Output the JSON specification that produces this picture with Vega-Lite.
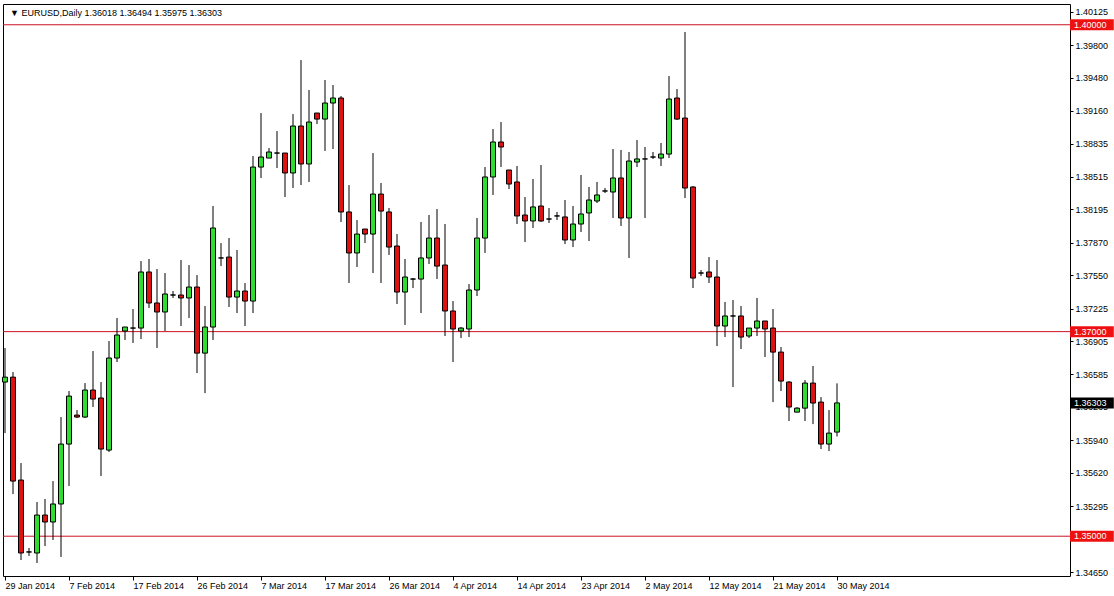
{
"$schema": "https://vega.github.io/schema/vega-lite/v6.json",
"width": 1067,
"height": 572,
"autosize": {"type": "none"},
"padding": {"left": 3, "top": 4, "right": 44, "bottom": 20},
"background": "white",
"config": {"view": {"stroke": "black", "strokeWidth": 1}, "font": "Liberation Sans"},
"title": {"text": "▼ EURUSD,Daily  1.36018 1.36494 1.35975 1.36303", "anchor": "start", "frame": "group", "orient": "top", "offset": -14, "dx": 7, "font": "Liberation Sans", "fontSize": 9, "fontWeight": "normal", "color": "black"},
"datasets": {
"levels": [
{"price": 1.4, "label": "1.40000", "kind": "level"},
{"price": 1.37, "label": "1.37000", "kind": "level"},
{"price": 1.35, "label": "1.35000", "kind": "level"},
{"price": 1.36303, "label": "1.36303", "kind": "bid"}
],
"candles": [
{"i":0,"date":"2014-01-29","o":1.36507,"h":1.36840,"l":1.36008,"c":1.36555},
{"i":1,"date":"2014-01-30","o":1.36555,"h":1.36605,"l":1.35412,"c":1.35539},
{"i":2,"date":"2014-01-31","o":1.35549,"h":1.35715,"l":1.34767,"c":1.34836},
{"i":3,"date":"2014-02-02","o":1.34846,"h":1.34885,"l":1.34807,"c":1.34846},
{"i":4,"date":"2014-02-03","o":1.34836,"h":1.35334,"l":1.34738,"c":1.35207},
{"i":5,"date":"2014-02-04","o":1.35207,"h":1.35364,"l":1.34904,"c":1.35139},
{"i":6,"date":"2014-02-05","o":1.35139,"h":1.35539,"l":1.34963,"c":1.35315},
{"i":7,"date":"2014-02-06","o":1.35315,"h":1.36165,"l":1.34797,"c":1.35901},
{"i":8,"date":"2014-02-07","o":1.35901,"h":1.36419,"l":1.35491,"c":1.36370},
{"i":9,"date":"2014-02-09","o":1.36184,"h":1.36233,"l":1.36155,"c":1.36165},
{"i":10,"date":"2014-02-10","o":1.36165,"h":1.36497,"l":1.36155,"c":1.36429},
{"i":11,"date":"2014-02-11","o":1.36429,"h":1.36810,"l":1.36263,"c":1.36341},
{"i":12,"date":"2014-02-12","o":1.36351,"h":1.36507,"l":1.35588,"c":1.35852},
{"i":13,"date":"2014-02-13","o":1.35842,"h":1.36908,"l":1.35823,"c":1.36742},
{"i":14,"date":"2014-02-14","o":1.36742,"h":1.37133,"l":1.36703,"c":1.36967},
{"i":15,"date":"2014-02-16","o":1.37006,"h":1.37045,"l":1.36918,"c":1.37045},
{"i":16,"date":"2014-02-17","o":1.37035,"h":1.37221,"l":1.36889,"c":1.37035},
{"i":17,"date":"2014-02-18","o":1.37035,"h":1.37690,"l":1.36927,"c":1.37583},
{"i":18,"date":"2014-02-19","o":1.37583,"h":1.37710,"l":1.37231,"c":1.37280},
{"i":19,"date":"2014-02-20","o":1.37280,"h":1.37612,"l":1.36840,"c":1.37192},
{"i":20,"date":"2014-02-21","o":1.37192,"h":1.37573,"l":1.37006,"c":1.37368},
{"i":21,"date":"2014-02-23","o":1.37358,"h":1.37397,"l":1.37329,"c":1.37358},
{"i":22,"date":"2014-02-24","o":1.37358,"h":1.37700,"l":1.37055,"c":1.37329},
{"i":23,"date":"2014-02-25","o":1.37329,"h":1.37651,"l":1.37133,"c":1.37436},
{"i":24,"date":"2014-02-26","o":1.37436,"h":1.37553,"l":1.36595,"c":1.36790},
{"i":25,"date":"2014-02-27","o":1.36790,"h":1.37250,"l":1.36399,"c":1.37045},
{"i":26,"date":"2014-02-28","o":1.37045,"h":1.38228,"l":1.36918,"c":1.38013},
{"i":27,"date":"2014-03-02","o":1.37720,"h":1.37866,"l":1.37641,"c":1.37720},
{"i":28,"date":"2014-03-03","o":1.37729,"h":1.37915,"l":1.37241,"c":1.37338},
{"i":29,"date":"2014-03-04","o":1.37338,"h":1.37798,"l":1.37182,"c":1.37397},
{"i":30,"date":"2014-03-05","o":1.37397,"h":1.37475,"l":1.37055,"c":1.37299},
{"i":31,"date":"2014-03-06","o":1.37299,"h":1.38717,"l":1.37182,"c":1.38609},
{"i":32,"date":"2014-03-07","o":1.38609,"h":1.39137,"l":1.38502,"c":1.38707},
{"i":33,"date":"2014-03-09","o":1.38697,"h":1.38795,"l":1.38697,"c":1.38756},
{"i":34,"date":"2014-03-10","o":1.38746,"h":1.38961,"l":1.38600,"c":1.38746},
{"i":35,"date":"2014-03-11","o":1.38746,"h":1.38746,"l":1.38316,"c":1.38551},
{"i":36,"date":"2014-03-12","o":1.38551,"h":1.39127,"l":1.38404,"c":1.39010},
{"i":37,"date":"2014-03-13","o":1.39010,"h":1.39655,"l":1.38433,"c":1.38639},
{"i":38,"date":"2014-03-14","o":1.38639,"h":1.39362,"l":1.38463,"c":1.39049},
{"i":39,"date":"2014-03-16","o":1.39137,"h":1.39137,"l":1.39029,"c":1.39078},
{"i":40,"date":"2014-03-17","o":1.39078,"h":1.39460,"l":1.38766,"c":1.39235},
{"i":41,"date":"2014-03-18","o":1.39235,"h":1.39411,"l":1.38785,"c":1.39284},
{"i":42,"date":"2014-03-19","o":1.39284,"h":1.39303,"l":1.38072,"c":1.38170},
{"i":43,"date":"2014-03-20","o":1.38170,"h":1.38433,"l":1.37475,"c":1.37769},
{"i":44,"date":"2014-03-21","o":1.37769,"h":1.38091,"l":1.37632,"c":1.37954},
{"i":45,"date":"2014-03-23","o":1.38003,"h":1.38003,"l":1.37866,"c":1.37954},
{"i":46,"date":"2014-03-24","o":1.37954,"h":1.38746,"l":1.37573,"c":1.38345},
{"i":47,"date":"2014-03-25","o":1.38345,"h":1.38453,"l":1.37475,"c":1.38179},
{"i":48,"date":"2014-03-26","o":1.38170,"h":1.38209,"l":1.37749,"c":1.37827},
{"i":49,"date":"2014-03-27","o":1.37837,"h":1.37954,"l":1.37270,"c":1.37387},
{"i":50,"date":"2014-03-28","o":1.37387,"h":1.37710,"l":1.37065,"c":1.37534},
{"i":51,"date":"2014-03-30","o":1.37514,"h":1.37524,"l":1.37426,"c":1.37514},
{"i":52,"date":"2014-03-31","o":1.37514,"h":1.38072,"l":1.37182,"c":1.37720},
{"i":53,"date":"2014-04-01","o":1.37720,"h":1.38140,"l":1.37661,"c":1.37915},
{"i":54,"date":"2014-04-02","o":1.37915,"h":1.38199,"l":1.37514,"c":1.37641},
{"i":55,"date":"2014-04-03","o":1.37651,"h":1.38052,"l":1.36957,"c":1.37202},
{"i":56,"date":"2014-04-04","o":1.37202,"h":1.37299,"l":1.36703,"c":1.37026},
{"i":57,"date":"2014-04-06","o":1.37006,"h":1.37045,"l":1.36937,"c":1.37035},
{"i":58,"date":"2014-04-07","o":1.37026,"h":1.37465,"l":1.36947,"c":1.37407},
{"i":59,"date":"2014-04-08","o":1.37407,"h":1.38111,"l":1.37348,"c":1.37915},
{"i":60,"date":"2014-04-09","o":1.37915,"h":1.38609,"l":1.37769,"c":1.38512},
{"i":61,"date":"2014-04-10","o":1.38512,"h":1.38981,"l":1.38336,"c":1.38854},
{"i":62,"date":"2014-04-11","o":1.38854,"h":1.39049,"l":1.38609,"c":1.38805},
{"i":63,"date":"2014-04-13","o":1.38580,"h":1.38580,"l":1.38394,"c":1.38443},
{"i":64,"date":"2014-04-14","o":1.38463,"h":1.38619,"l":1.38052,"c":1.38131},
{"i":65,"date":"2014-04-15","o":1.38140,"h":1.38316,"l":1.37876,"c":1.38082},
{"i":66,"date":"2014-04-16","o":1.38082,"h":1.38492,"l":1.38013,"c":1.38219},
{"i":67,"date":"2014-04-17","o":1.38228,"h":1.38629,"l":1.38072,"c":1.38082},
{"i":68,"date":"2014-04-18","o":1.38101,"h":1.38209,"l":1.38062,"c":1.38101},
{"i":69,"date":"2014-04-20","o":1.38131,"h":1.38170,"l":1.38091,"c":1.38131},
{"i":70,"date":"2014-04-21","o":1.38121,"h":1.38287,"l":1.37856,"c":1.37896},
{"i":71,"date":"2014-04-22","o":1.37896,"h":1.38228,"l":1.37827,"c":1.38052},
{"i":72,"date":"2014-04-23","o":1.38052,"h":1.38531,"l":1.37974,"c":1.38150},
{"i":73,"date":"2014-04-24","o":1.38160,"h":1.38414,"l":1.37886,"c":1.38287},
{"i":74,"date":"2014-04-25","o":1.38277,"h":1.38463,"l":1.38257,"c":1.38336},
{"i":75,"date":"2014-04-27","o":1.38375,"h":1.38404,"l":1.38355,"c":1.38375},
{"i":76,"date":"2014-04-28","o":1.38365,"h":1.38785,"l":1.38111,"c":1.38502},
{"i":77,"date":"2014-04-29","o":1.38502,"h":1.38776,"l":1.38033,"c":1.38111},
{"i":78,"date":"2014-04-30","o":1.38111,"h":1.38756,"l":1.37720,"c":1.38668},
{"i":79,"date":"2014-05-01","o":1.38658,"h":1.38873,"l":1.38609,"c":1.38688},
{"i":80,"date":"2014-05-02","o":1.38688,"h":1.38805,"l":1.38111,"c":1.38688},
{"i":81,"date":"2014-05-04","o":1.38707,"h":1.38756,"l":1.38688,"c":1.38707},
{"i":82,"date":"2014-05-05","o":1.38697,"h":1.38844,"l":1.38619,"c":1.38736},
{"i":83,"date":"2014-05-06","o":1.38736,"h":1.39499,"l":1.38697,"c":1.39274},
{"i":84,"date":"2014-05-07","o":1.39284,"h":1.39372,"l":1.39069,"c":1.39078},
{"i":85,"date":"2014-05-08","o":1.39088,"h":1.39929,"l":1.38306,"c":1.38404},
{"i":86,"date":"2014-05-09","o":1.38414,"h":1.38423,"l":1.37426,"c":1.37524},
{"i":87,"date":"2014-05-11","o":1.37573,"h":1.37602,"l":1.37544,"c":1.37573},
{"i":88,"date":"2014-05-12","o":1.37583,"h":1.37729,"l":1.37475,"c":1.37534},
{"i":89,"date":"2014-05-13","o":1.37534,"h":1.37700,"l":1.36859,"c":1.37055},
{"i":90,"date":"2014-05-14","o":1.37055,"h":1.37290,"l":1.36947,"c":1.37153},
{"i":91,"date":"2014-05-15","o":1.37153,"h":1.37309,"l":1.36458,"c":1.37153},
{"i":92,"date":"2014-05-16","o":1.37153,"h":1.37250,"l":1.36830,"c":1.36947},
{"i":93,"date":"2014-05-18","o":1.36957,"h":1.37035,"l":1.36937,"c":1.37035},
{"i":94,"date":"2014-05-19","o":1.37035,"h":1.37329,"l":1.36957,"c":1.37104},
{"i":95,"date":"2014-05-20","o":1.37104,"h":1.37104,"l":1.36752,"c":1.37026},
{"i":96,"date":"2014-05-21","o":1.37035,"h":1.37221,"l":1.36311,"c":1.36800},
{"i":97,"date":"2014-05-22","o":1.36800,"h":1.36849,"l":1.36419,"c":1.36517},
{"i":98,"date":"2014-05-23","o":1.36507,"h":1.36517,"l":1.36126,"c":1.36263},
{"i":99,"date":"2014-05-25","o":1.36213,"h":1.36263,"l":1.36213,"c":1.36252},
{"i":100,"date":"2014-05-26","o":1.36252,"h":1.36526,"l":1.36126,"c":1.36497},
{"i":101,"date":"2014-05-27","o":1.36497,"h":1.36664,"l":1.36096,"c":1.36302},
{"i":102,"date":"2014-05-28","o":1.36311,"h":1.36360,"l":1.35852,"c":1.35901},
{"i":103,"date":"2014-05-29","o":1.35901,"h":1.36233,"l":1.35832,"c":1.36008},
{"i":104,"date":"2014-05-30","o":1.36018,"h":1.36494,"l":1.35975,"c":1.36303}
]
},
"layer": [
{
"data": {"name": "levels"},
"transform": [{"filter": "datum.kind == 'level'"}],
"mark": {"type": "rule", "color": "#cc1122", "strokeWidth": 1},
"encoding": {
"y": {"field": "price", "type": "quantitative", "title": null, "scale": {"domain": [1.34611, 1.40203], "zero": false, "nice": false, "padding": 0}}
}
},
{
"data": {"name": "candles"},
"mark": {"type": "rule", "color": "black", "strokeWidth": 1},
"encoding": {
"x": {"field": "i", "type": "quantitative", "title": null,
"scale": {"domain": [-0.25, 133.125], "zero": false, "nice": false, "padding": 0},
"axis": {"orient": "bottom", "values": [0, 8, 16, 24, 32, 40, 48, 56, 64, 72, 80, 88, 96, 104], "tickCount": 40,
"labelExpr": "['29 Jan 2014','7 Feb 2014','17 Feb 2014','26 Feb 2014','7 Mar 2014','17 Mar 2014','26 Mar 2014','4 Apr 2014','14 Apr 2014','23 Apr 2014','2 May 2014','12 May 2014','21 May 2014','30 May 2014'][round(datum.value / 8)]",
"labelAlign": "left", "labelBaseline": "top", "labelPadding": 1, "labelFlush": false, "labelOverlap": false, "labelBound": false,
"tickSize": 4, "tickColor": "black", "domain": false, "grid": false,
"labelFont": "Liberation Sans", "labelFontSize": 9, "labelColor": "black", "title": null}},
"y": {"field": "l", "type": "quantitative", "title": null,
"scale": {"domain": [1.34611, 1.40203], "zero": false, "nice": false, "padding": 0},
"axis": {"orient": "right", "values": [1.40125, 1.398, 1.3948, 1.3916, 1.38835, 1.38515, 1.38195, 1.3787, 1.3755, 1.37225, 1.36905, 1.36585, 1.36265, 1.3594, 1.3562, 1.35295, 1.3465], "tickCount": 40,
"format": ".5f", "labelAlign": "left", "labelBaseline": "middle", "labelPadding": 2, "labelFlush": false, "labelOverlap": false,
"tickSize": 3, "tickColor": "black", "domain": false, "grid": false,
"labelFont": "Liberation Sans", "labelFontSize": 9, "labelColor": "black", "title": null}},
"y2": {"field": "h"}
}
},
{
"data": {"name": "candles"},
"mark": {"type": "bar", "orient": "vertical", "size": 5, "stroke": "black", "strokeWidth": 1},
"encoding": {
"x": {"field": "i", "type": "quantitative", "title": null},
"y": {"field": "o", "type": "quantitative", "title": null},
"y2": {"field": "c"},
"fill": {"condition": {"test": "datum.c > datum.o", "value": "#2fdc2f"}, "value": "#dd1111"}
}
},
{
"data": {"name": "levels"},
"mark": {"type": "bar", "orient": "horizontal", "size": 11},
"encoding": {
"y": {"field": "price", "type": "quantitative", "title": null},
"x": {"datum": 133.125},
"x2": {"datum": 138.6},
"fill": {"field": "kind", "type": "nominal", "scale": {"domain": ["level", "bid"], "range": ["#ee1111", "black"]}, "legend": null}
}
},
{
"data": {"name": "levels"},
"mark": {"type": "text", "align": "left", "baseline": "middle", "dx": 4, "color": "white", "font": "Liberation Sans", "fontSize": 9},
"encoding": {
"y": {"field": "price", "type": "quantitative", "title": null},
"x": {"datum": 133.125},
"text": {"field": "label"}
}
}
]
}
